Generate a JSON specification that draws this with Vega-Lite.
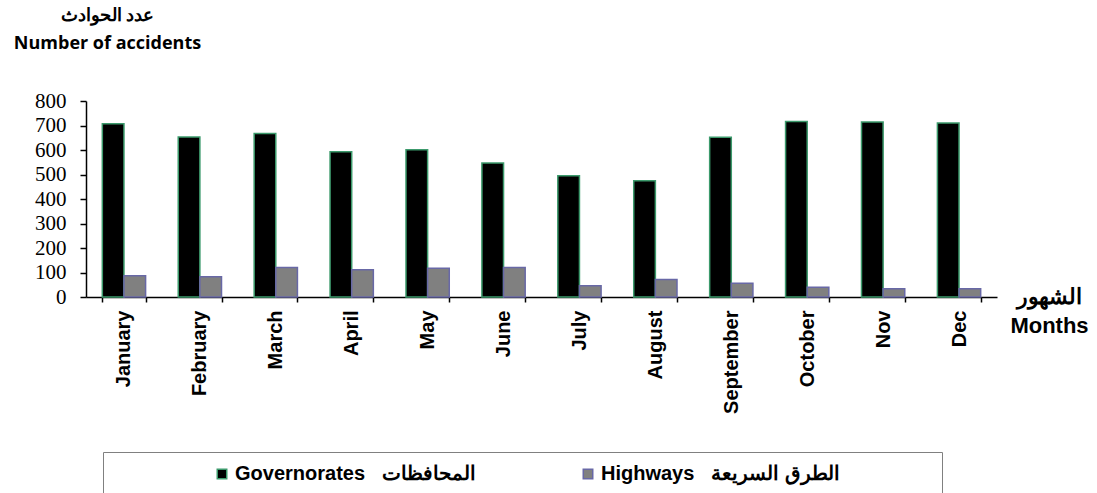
{
  "$schema": "https://vega.github.io/schema/vega-lite/v6.json",
  "width": 911,
  "height": 196,
  "autosize": {"type": "none"},
  "padding": {"left": 86, "top": 101, "right": 100, "bottom": 196},
  "background": "white",
  "config": {"view": {"stroke": null}},
  "data": {
    "values": [
      {"month": "January", "series": "Governorates", "accidents": 707},
      {"month": "January", "series": "Highways", "accidents": 87},
      {"month": "February", "series": "Governorates", "accidents": 653},
      {"month": "February", "series": "Highways", "accidents": 83},
      {"month": "March", "series": "Governorates", "accidents": 667},
      {"month": "March", "series": "Highways", "accidents": 120},
      {"month": "April", "series": "Governorates", "accidents": 593},
      {"month": "April", "series": "Highways", "accidents": 111},
      {"month": "May", "series": "Governorates", "accidents": 601},
      {"month": "May", "series": "Highways", "accidents": 117},
      {"month": "June", "series": "Governorates", "accidents": 547},
      {"month": "June", "series": "Highways", "accidents": 120},
      {"month": "July", "series": "Governorates", "accidents": 495},
      {"month": "July", "series": "Highways", "accidents": 46},
      {"month": "August", "series": "Governorates", "accidents": 475},
      {"month": "August", "series": "Highways", "accidents": 71},
      {"month": "September", "series": "Governorates", "accidents": 652},
      {"month": "September", "series": "Highways", "accidents": 56},
      {"month": "October", "series": "Governorates", "accidents": 716},
      {"month": "October", "series": "Highways", "accidents": 40},
      {"month": "Nov", "series": "Governorates", "accidents": 714},
      {"month": "Nov", "series": "Highways", "accidents": 34},
      {"month": "Dec", "series": "Governorates", "accidents": 710},
      {"month": "Dec", "series": "Highways", "accidents": 34}
    ]
  },
  "mark": {"type": "bar", "strokeWidth": 1.5},
  "encoding": {
    "x": {
      "field": "month",
      "type": "nominal",
      "sort": null,
      "scale": {"paddingInner": 0.43, "paddingOuter": 0.215},
      "axis": {
        "title": ["الشهور", "Months"],
        "titleX": 963,
        "titleY": 6,
        "titleAlign": "center",
        "titleBaseline": "alphabetic",
        "titleAngle": 0,
        "titleFont": "Liberation Sans",
        "titleFontSize": 22,
        "titleFontWeight": "bold",
        "titleLineHeight": 29,
        "titleColor": "black",
        "labelAngle": 270,
        "labelFont": "Liberation Sans",
        "labelFontSize": 20,
        "labelFontWeight": "bold",
        "labelColor": "black",
        "labelPadding": 8,
        "labelOverlap": false,
        "tickBand": "extent",
        "tickSize": 5,
        "tickColor": "black",
        "tickWidth": 1.5,
        "domainColor": "black",
        "domainWidth": 1.5,
        "grid": false
      }
    },
    "xOffset": {"field": "series", "type": "nominal", "sort": ["Governorates", "Highways"]},
    "y": {
      "field": "accidents",
      "type": "quantitative",
      "scale": {"domain": [0, 800]},
      "axis": {
        "title": ["عدد الحوادث", "Number of accidents"],
        "titleAngle": 0,
        "titleX": 21,
        "titleY": -81,
        "titleAlign": "center",
        "titleBaseline": "alphabetic",
        "titleFont": "Open Sans",
        "titleFontSize": 18,
        "titleFontWeight": "bold",
        "titleLineHeight": 28,
        "titleColor": "black",
        "values": [0, 100, 200, 300, 400, 500, 600, 700, 800],
        "labelFont": "Liberation Serif",
        "labelFontSize": 21,
        "labelColor": "black",
        "labelPadding": 14,
        "tickSize": 6,
        "tickColor": "black",
        "tickWidth": 1.5,
        "domainColor": "black",
        "domainWidth": 1.5,
        "grid": false
      }
    },
    "fill": {
      "field": "series",
      "type": "nominal",
      "scale": {"domain": ["Governorates", "Highways"], "range": ["#000000", "#808080"]},
      "legend": {
        "orient": "none",
        "legendX": 17,
        "legendY": 351,
        "direction": "horizontal",
        "title": null,
        "symbolType": "square",
        "symbolSize": 90,
        "symbolStrokeWidth": 1.5,
        "symbolOffset": 97,
        "labelOffset": 3,
        "labelFont": "Liberation Sans",
        "labelFontSize": 20,
        "labelFontWeight": "bold",
        "labelColor": "black",
        "labelLimit": 800,
        "labelExpr": "datum.label == 'Governorates' ? 'Governorates\u00a0\u00a0\u00a0المحافظات' : 'Highways\u00a0\u00a0\u00a0الطرق السريعة\u2800\u2800\u2800\u2800\u2800\u2800'",
        "columnPadding": 5,
        "padding": 12,
        "strokeColor": "#808080",
        "fillColor": "white"
      }
    },
    "stroke": {
      "field": "series",
      "type": "nominal",
      "scale": {"domain": ["Governorates", "Highways"], "range": ["#3c9a6c", "#6868a6"]},
      "legend": {
        "orient": "none",
        "legendX": 17,
        "legendY": 351,
        "direction": "horizontal",
        "title": null,
        "symbolType": "square",
        "symbolSize": 90,
        "symbolStrokeWidth": 1.5,
        "symbolOffset": 97,
        "labelOffset": 3,
        "labelFont": "Liberation Sans",
        "labelFontSize": 20,
        "labelFontWeight": "bold",
        "labelColor": "black",
        "labelLimit": 800,
        "labelExpr": "datum.label == 'Governorates' ? 'Governorates\u00a0\u00a0\u00a0المحافظات' : 'Highways\u00a0\u00a0\u00a0الطرق السريعة\u2800\u2800\u2800\u2800\u2800\u2800'",
        "columnPadding": 5,
        "padding": 12,
        "strokeColor": "#808080",
        "fillColor": "white"
      }
    }
  }
}
